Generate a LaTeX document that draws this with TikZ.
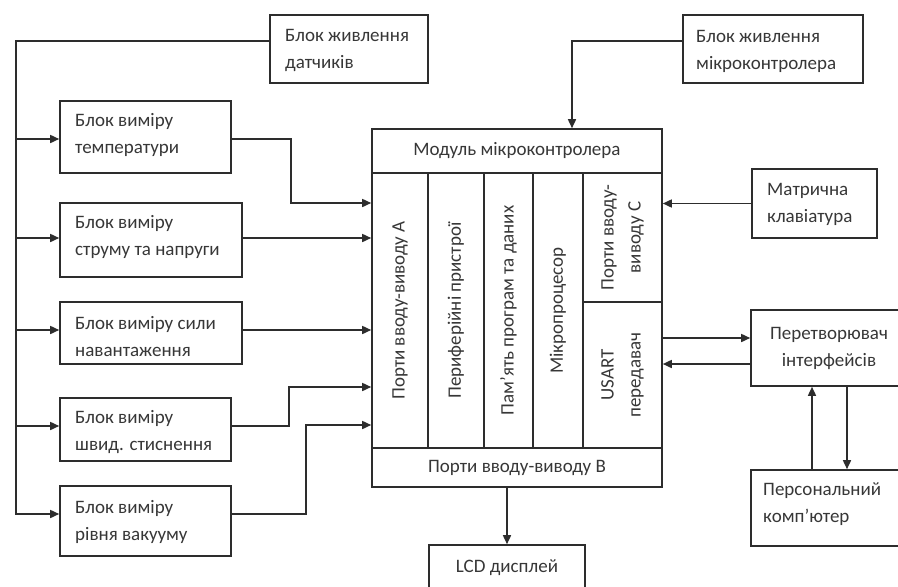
\documentclass[tikz,border=0pt]{standalone}
\usepackage{fontspec}
\setmainfont{Carlito}
\usetikzlibrary{arrows.meta,calc}
\definecolor{ln}{RGB}{45,45,45}
\definecolor{tx}{RGB}{55,55,55}
\begin{document}
\begin{tikzpicture}[x=1pt,y=-1pt,
  box/.style 2 args={draw=ln,line width=1.6pt,inner sep=0pt,minimum width=#1,minimum height=#2},
  txt/.style={font=\fontsize{19}{27}\selectfont,text=tx,align=left,inner sep=0pt},
  ctxt/.style={font=\fontsize{19}{27}\selectfont,text=tx,align=center},
  arr/.style={draw=ln,line width=1.6pt,-{Triangle[length=9pt,width=8pt]}},
  wire/.style={draw=ln,line width=1.6pt}]
\useasboundingbox (0,0) rectangle (898,587);
\clip (0,0) rectangle (898,587);
\fill[white] (0,0) rectangle (898,587);

% left boxes
\node[box={158}{68}] (ps) at (349,49) {};
\node[txt,anchor=west] (pst) at (285,50.5) {Блок живлення\\датчиків};
\node[box={171}{72}] (temp) at (145.5,137) {};
\node[txt,anchor=west] (tempt) at (75,134.5) {Блок виміру\\температури};
\node[box={182}{74}] (cur) at (151,240) {};
\node[txt,anchor=west] (curt) at (75,237) {Блок виміру\\струму та напруги};
\node[box={182}{62}] (force) at (151,333) {};
\node[txt,anchor=west] (forcet) at (75,337) {Блок виміру сили\\навантаження};
\node[box={171}{63}] (speed) at (145.5,429.5) {};
\node[txt,anchor=west] (speedt) at (75,432) {Блок виміру\\швид. стиснення};
\node[box={171}{70}] (vac) at (145.5,521) {};
\node[txt,anchor=west] (vact) at (75,522) {Блок виміру\\рівня вакууму};

% module
\node[box={290}{358}] (mod) at (517,308) {};
\node[box={290}{44},ctxt] (hdr) at (517,151) {Модуль мікроконтролера};
\node[box={290}{39},ctxt] (portb) at (517,467.5) {Порти вводу-виводу В};
\node[box={275}{56},ctxt,rotate=90] (cola) at (400,310.5) {Порти вводу-виводу А};
\node[box={275}{56},ctxt,rotate=90] (colp) at (456,310.5) {Периферійні пристрої};
\node[box={275}{49},ctxt,rotate=90] (colm) at (508.5,310.5) {Пам’ять програм та даних};
\node[box={275}{50},ctxt,rotate=90] (colu) at (558,310.5) {Мікропроцесор};
\node[box={129}{79},ctxt,rotate=90] (colc) at (622.5,237.5) {Порти вводу-\\виводу С};
\node[box={146}{79},ctxt,rotate=90] (cols) at (622.5,375) {USART\\передавач};

% right boxes
\node[box={180}{68}] (pmc) at (773,49) {};
\node[txt,anchor=west] (pmct) at (696,51) {Блок живлення\\мікроконтролера};
\node[box={125}{69}] (kbd) at (814.5,203.5) {};
\node[txt,anchor=west] (kbdt) at (767,204) {Матрична\\клавіатура};
\node[box={156}{76},ctxt] (conv) at (829,348) {Перетворювач\\інтерфейсів};
\node[box={156}{76}] (pc) at (829,508) {};
\node[txt,anchor=west] (pct) at (763,504) {Персональний\\комп’ютер};
\node[box={156}{46},ctxt] (lcd) at (507,568) {LCD дисплей};

% sensor power bus
\draw[arr] ([yshift=8pt]ps.west) -| ([xshift=-43pt,yshift=7pt]vac.west) -- ([yshift=7pt]vac.west);
\draw[arr] ([xshift=-43pt,yshift=-2pt]temp.west) -- ([yshift=-2pt]temp.west);
\draw[arr] ([xshift=-43pt,yshift=2pt]cur.west) -- ([yshift=2pt]cur.west);
\draw[arr] ([xshift=-43pt,yshift=3pt]force.west) -- ([yshift=3pt]force.west);
\draw[arr] ([xshift=-43pt,yshift=3.5pt]speed.west) -- ([yshift=3.5pt]speed.west);

% sensors to module
\draw[arr] ([yshift=-2pt]temp.east) -| ($(mod.west)+(-80,-105)$) -- ($(mod.west)+(0,-105)$);
\draw[arr] ([yshift=2pt]cur.east) -- ($(mod.west)+(0,-70)$);
\draw[arr] ([yshift=3pt]force.east) -- ($(mod.west)+(0,22)$);
\draw[arr] ([yshift=3.5pt]speed.east) -| ($(mod.west)+(-82,79)$) -- ($(mod.west)+(0,79)$);
\draw[arr] ([yshift=7pt]vac.east) -| ($(mod.west)+(-65,117)$) -- ($(mod.west)+(0,117)$);

% right side
\draw[arr] ([yshift=8pt]pmc.west) -| ([xshift=55pt]mod.north);
\draw[arr] (kbd.west) -- (kbd.west -| mod.east);
\draw[arr] ($(conv.west -| mod.east)+(0,-10)$) -- ($(conv.west)+(0,-10)$);
\draw[arr] ($(conv.west)+(0,16)$) -- ($(conv.west -| mod.east)+(0,16)$);
\draw[arr] ($(pc.north)+(-17,0)$) -- ($(conv.south)+(-17,0)$);
\draw[arr] ($(conv.south)+(18,0)$) -- ($(pc.north)+(18,0)$);
\draw[arr] (mod.south -| lcd.north) -- (lcd.north);
\end{tikzpicture}
\end{document}
